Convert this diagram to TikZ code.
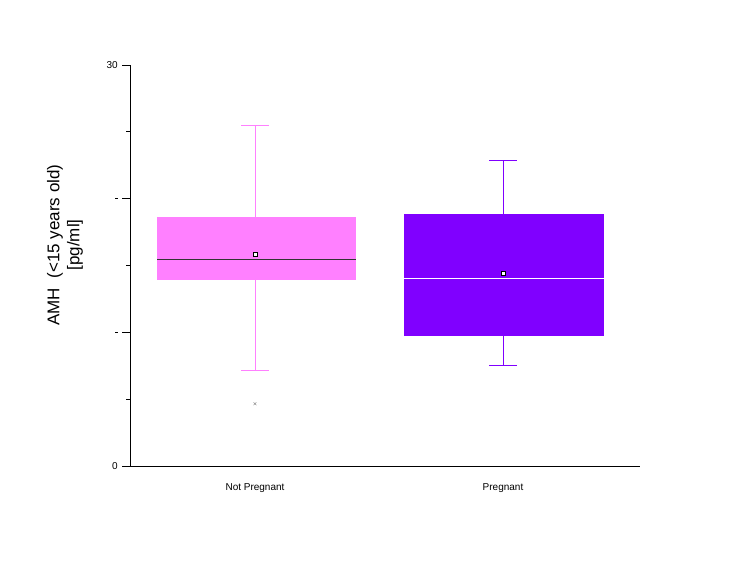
\documentclass[tikz,border=0pt]{standalone}
\usepackage{fontspec}
\setmainfont{Liberation Sans}
\begin{document}
\begin{tikzpicture}[x=1pt,y=-1pt,
  ax/.style={black,line width=0.8pt},
  lbl/.style={font=\fontsize{10}{12}\selectfont,inner sep=0pt}]
\useasboundingbox (0,0) rectangle (733,562);
\definecolor{pk}{HTML}{FF80FF}\definecolor{pu}{HTML}{8000FF}
% box 1
\fill[pk] (157,217) rectangle (356,280);
\draw[pk,line width=1pt] (255,217)--(255,125) (241,125)--(269,125) (255,280)--(255,370) (241,370)--(269,370);
\draw[black!80,line width=0.8pt] (157,259)--(356,259);
\node[draw=black,fill=white,line width=0.6pt,minimum size=4pt,inner sep=0pt] (m1) at (255,254) {};
\node[font=\tiny,inner sep=0pt] (o1) at (255,404) {$\times$};
% box 2
\fill[pu] (404,214) rectangle (604,336);
\draw[pu,line width=1pt] (503,214)--(503,160) (489,160)--(517,160) (503,336)--(503,365) (489,365)--(517,365);
\draw[white,line width=0.8pt] (404,278)--(604,278);
\node[draw=black,fill=white,line width=0.6pt,minimum size=4pt,inner sep=0pt] (m2) at (503,273) {};
% axes
\draw[ax] (130,65)--(130,466)--(640,466);
\foreach \y in {65,198,332,466} \draw[ax] (122,\y)--(130,\y);
\foreach \y in {131,265,399} \draw[ax] (126,\y)--(130,\y);
\foreach \y in {198,332} \draw[ax] (115,\y)--(118,\y);
\node[lbl,anchor=east] (t0) at (118,466) {0};
\node[lbl,anchor=east] (t30) at (118,65) {30};
\node[lbl] (c1) at (255,488) {Not Pregnant};
\node[lbl] (c2) at (503,488) {Pregnant};
\node[rotate=90,align=center,font=\fontsize{17}{20}\selectfont] (yl) at (65,245) {AMH\ \ (<15 years old)\\{[pg/ml]}};
\end{tikzpicture}
\end{document}
